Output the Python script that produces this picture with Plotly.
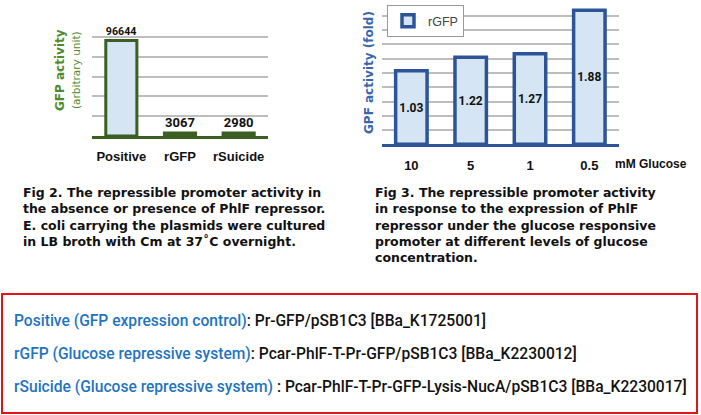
import plotly.graph_objects as go

# ---- data ----
fig2_categories = ["Positive", "rGFP", "rSuicide"]
fig2_values = [96644, 3067, 2980]
fig2_labels = ["96644", "3067", "2980"]

fig3_glucose = ["10", "5", "1", "0.5"]
fig3_fold = [1.03, 1.22, 1.27, 1.88]
fig3_labels = ["1.03", "1.22", "1.27", "1.88"]

caption2 = [
    "Fig 2. The repressible promoter activity in",
    "the absence or presence of PhlF repressor.",
    "E. coli carrying the plasmids were cultured",
    "in LB broth with Cm at 37˚C overnight.",
]
caption3 = [
    "Fig 3. The repressible promoter activity",
    "in response to the expression of PhlF",
    "repressor under the glucose responsive",
    "promoter at different levels of glucose",
    "concentration.",
]
box_names = [
    "Positive (GFP expression control)",
    "rGFP (Glucose repressive system)",
    "rSuicide (Glucose repressive system) ",
]
box_parts = [
    "Pr-GFP/pSB1C3 [BBa_K1725001]",
    "Pcar-PhlF-T-Pr-GFP/pSB1C3 [BBa_K2230012]",
    "Pcar-PhlF-T-Pr-GFP-Lysis-NucA/pSB1C3 [BBa_K2230017]",
]

W, H = 701, 415
def px(x):
    return x / W
def py(y):
    return 1 - y / H

GREEN = "#3b5e23"
GREEN_T = "#4e8b2e"
BLUE = "#2d5496"
BLUE_T = "#3a66ad"
FILL = "#d5e5f4"
GRID = "#bdbdbd"
ARIAL = "Liberation Sans, Arial, sans-serif"
LABEL = "Roboto, Liberation Sans, sans-serif"

fig = go.Figure()
fig.add_trace(go.Bar(
    x=fig2_categories, y=fig2_values, xaxis="x", yaxis="y",
    text=fig2_labels, textposition="outside", cliponaxis=False,
    textfont=dict(family=LABEL, size=13, color="#111", weight="bold"),
    marker=dict(color=FILL, line=dict(color=GREEN, width=3)),
    showlegend=False, name="Fig 2",
))
fig.add_trace(go.Bar(
    x=fig3_glucose, y=fig3_fold, xaxis="x2", yaxis="y2",
    text=fig3_labels, textposition="inside", insidetextanchor="middle",
    textangle=0, constraintext="none",
    textfont=dict(family=LABEL, size=12, color="#111", weight="bold"),
    marker=dict(color=FILL, line=dict(color=BLUE, width=3.5)),
    showlegend=True, name="rGFP",
))

fig.update_layout(
    width=W, height=H, margin=dict(l=0, r=0, t=0, b=0),
    paper_bgcolor="white", plot_bgcolor="white",
    bargap=0.47,
    xaxis=dict(domain=[px(92), px(268)], anchor="y", showgrid=False,
               showline=True, linecolor=GREEN, linewidth=3, ticks="",
               tickfont=dict(family=ARIAL, size=13, color="#111", weight="bold"),
               ticklabelstandoff=6, fixedrange=True),
    yaxis=dict(domain=[py(136), py(17.3)], anchor="x", range=[0, 120000],
               dtick=20000, showgrid=True, gridcolor=GRID, gridwidth=1.5,
               showticklabels=False, zeroline=False, fixedrange=True),
    xaxis2=dict(domain=[px(381.7), px(619)], anchor="y2", showgrid=False,
                showline=True, linecolor=BLUE, linewidth=3, ticks="",
                tickfont=dict(family=ARIAL, size=13, color="#111", weight="bold"),
                ticklabelstandoff=7, fixedrange=True),
    yaxis2=dict(domain=[py(144.3), py(1.7)], anchor="x2", range=[0, 2],
                dtick=0.2, showgrid=True, gridcolor=GRID, gridwidth=1.5,
                showticklabels=False, zeroline=False, fixedrange=True),
    legend=dict(x=px(387), y=py(5), xanchor="left", yanchor="top",
                bordercolor="#999", borderwidth=1, bgcolor="white",
                itemwidth=30,
                font=dict(family=ARIAL, size=12.5, color="#444")),
)

ann = []
# axis titles
ann.append(dict(x=px(60), y=py(70), xref="paper", yref="paper", text="GFP activity",
                textangle=-90, showarrow=False, xanchor="center", yanchor="middle",
                font=dict(family="DejaVu Sans", size=12, color=GREEN_T, weight="bold")))
ann.append(dict(x=px(76), y=py(70), xref="paper", yref="paper", text="(arbitrary unit)",
                textangle=-90, showarrow=False, xanchor="center", yanchor="middle",
                font=dict(family="DejaVu Sans", size=10.5, color=GREEN_T)))
ann.append(dict(x=px(369), y=py(73), xref="paper", yref="paper", text="GPF activity (fold)",
                textangle=-90, showarrow=False, xanchor="center", yanchor="middle",
                font=dict(family="DejaVu Sans", size=12, color=BLUE_T, weight="bold")))
ann.append(dict(x=px(613), y=py(164), xref="paper", yref="paper", text="mM Glucose",
                xanchor="left", yanchor="middle", showarrow=False,
                font=dict(family=ARIAL, size=12, color="#111", weight="bold")))
# captions
ann.append(dict(x=px(21), y=py(183), xref="paper", yref="paper",
                text="<br>".join(caption2), xanchor="left", yanchor="top", align="left",
                showarrow=False,
                font=dict(family="DejaVu Sans", size=12.5, color="#111", weight="bold")))
ann.append(dict(x=px(373), y=py(183), xref="paper", yref="paper",
                text="<br>".join(caption3), xanchor="left", yanchor="top", align="left",
                showarrow=False,
                font=dict(family="DejaVu Sans", size=12.5, color="#111", weight="bold")))
# boxed legend text
for i, (nm, pt) in enumerate(zip(box_names, box_parts)):
    ann.append(dict(x=px(11.5), y=py(321 + i * 32.8), xref="paper", yref="paper",
                    text=f"<span style='color:#1f74bf'>{nm}</span>: {pt}",
                    xanchor="left", yanchor="middle", align="left", showarrow=False,
                    font=dict(family="Roboto", size=15.6, color="#111", weight=500)))
fig.update_layout(annotations=ann)

fig.add_shape(type="rect", xref="paper", yref="paper",
              x0=px(2), x1=px(697), y0=py(413), y1=py(294),
              line=dict(color="#e0141b", width=2), fillcolor="rgba(0,0,0,0)")

fig.write_html("out.html", config={"displayModeBar": False},
               post_script="document.body.style.margin='0';document.body.style.overflow='hidden';")
